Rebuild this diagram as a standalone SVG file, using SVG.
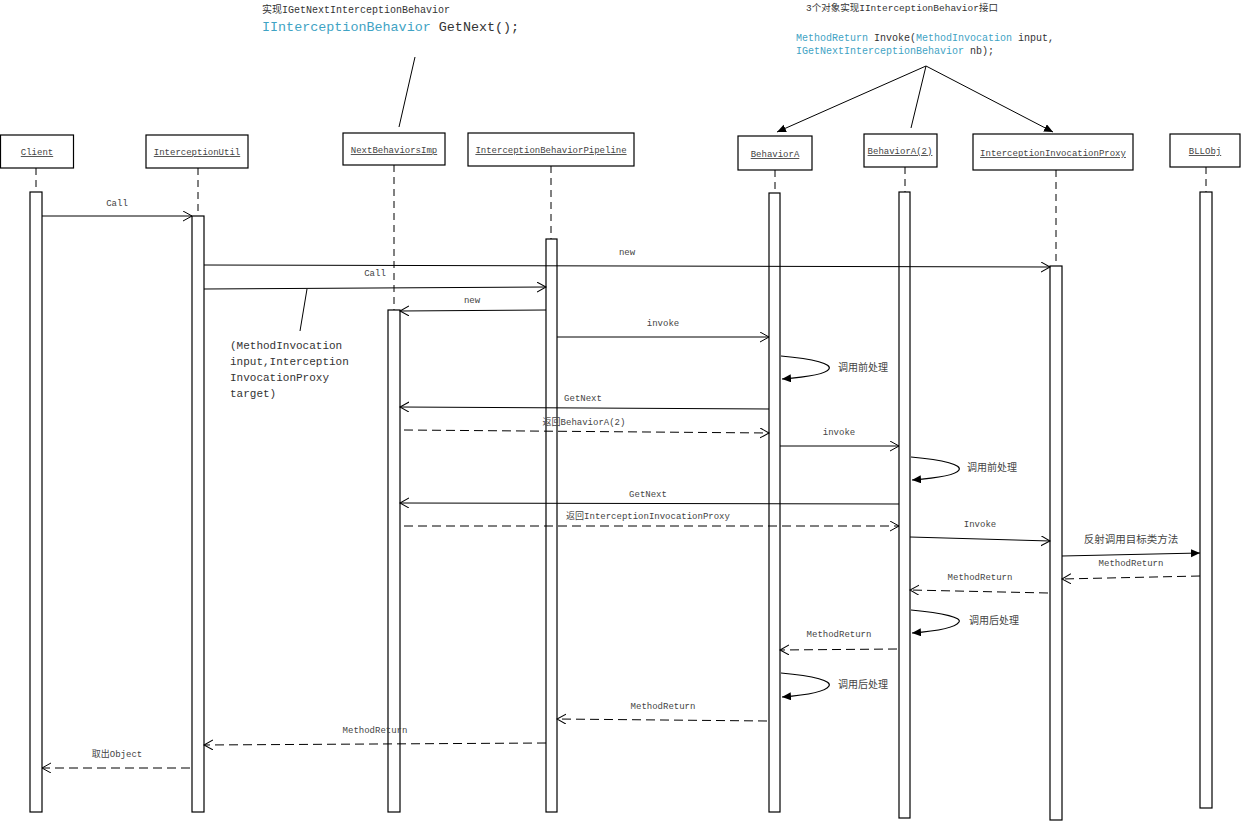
<svg xmlns="http://www.w3.org/2000/svg" width="1243" height="822" viewBox="0 0 1243 822">
<defs>
<marker id="open" markerUnits="userSpaceOnUse" markerWidth="12" markerHeight="12" refX="9" refY="5" orient="auto"><path d="M0,0 L9,5 L0,10" fill="none" stroke="#000" stroke-width="1"/></marker>
<marker id="fill" markerUnits="userSpaceOnUse" markerWidth="12" markerHeight="12" refX="9" refY="4" orient="auto"><path d="M0,0 L9,4 L0,8 z" fill="#000"/></marker>
</defs>
<style>
.box{fill:#fff;stroke:#000;stroke-width:1.2}
.act{fill:#fff;stroke:#000;stroke-width:1.2}
.life{stroke:#000;stroke-width:1;stroke-dasharray:7,5;fill:none}
.msg{stroke:#000;stroke-width:1;fill:none;marker-end:url(#open)}
.ret{stroke:#000;stroke-width:1;fill:none;stroke-dasharray:9,5;marker-end:url(#open)}
.loop{stroke:#000;stroke-width:1.2;fill:none;marker-end:url(#fill)}
.t{font-family:"Liberation Mono","Noto Sans CJK SC",monospace;font-size:9px;fill:#444;text-anchor:middle}
.h{font-family:"Liberation Mono","Noto Sans CJK SC",monospace;font-size:9px;fill:#444;text-anchor:middle;text-decoration:underline}
.c{font-family:"Liberation Mono","Noto Sans CJK SC",monospace;font-size:10px;fill:#333}
.blue{fill:#3fa3c4}
</style>
<rect width="1243" height="822" fill="#fff"/>

<!-- annotations -->
<g id="note-getnext">
<text class="c" x="262" y="13">实现IGetNextInterceptionBehavior</text>
<text class="c" x="262" y="31" style="font-size:13.4px"><tspan class="blue">IInterceptionBehavior</tspan> GetNext();</text>
<line x1="415" y1="57" x2="399" y2="127" stroke="#000"/>
</g>
<g id="note-invoke">
<text class="c" x="806" y="11" style="font-size:9.5px">3个对象实现IInterceptionBehavior接口</text>
<text class="c" x="796" y="41"><tspan class="blue">MethodReturn</tspan> Invoke(<tspan class="blue">MethodInvocation</tspan> input,</text>
<text class="c" x="796" y="54"><tspan class="blue">IGetNextInterceptionBehavior</tspan> nb);</text>
<line x1="926" y1="66" x2="777" y2="132" stroke="#000" marker-end="url(#fill)"/>
<line x1="926" y1="66" x2="911" y2="128" stroke="#000"/>
<line x1="926" y1="66" x2="1053" y2="132" stroke="#000" marker-end="url(#fill)"/>
</g>
<g id="note-args">
<line x1="307" y1="289" x2="300" y2="331" stroke="#000"/>
<text class="c" x="230" y="349" style="font-size:11px">(MethodInvocation</text>
<text class="c" x="230" y="365" style="font-size:11px">input,Interception</text>
<text class="c" x="230" y="381" style="font-size:11px">InvocationProxy</text>
<text class="c" x="230" y="397" style="font-size:11px">target)</text>
</g>

<!-- lifelines -->
<g id="lifelines">
<line class="life" x1="36" y1="168" x2="36" y2="192"/>
<line class="life" x1="198" y1="168" x2="198" y2="216"/>
<line class="life" x1="394" y1="165" x2="394" y2="310"/>
<line class="life" x1="551" y1="166" x2="551" y2="239"/>
<line class="life" x1="775" y1="170" x2="775" y2="193"/>
<line class="life" x1="905" y1="167" x2="905" y2="192"/>
<line class="life" x1="1056" y1="170" x2="1056" y2="266"/>
<line class="life" x1="1206" y1="167" x2="1206" y2="192"/>
</g>

<g id="Client"><rect class="box" x="0.5" y="135" width="73" height="33"/><text class="h" x="37" y="155">Client</text><rect class="act" x="30" y="192" width="12" height="620"/></g>
<g id="InterceptionUtil"><rect class="box" x="146" y="135" width="102" height="33"/><text class="h" x="197" y="155">InterceptionUtil</text><rect class="act" x="192" y="216" width="12" height="596"/></g>
<g id="NextBehaviorsImp"><rect class="box" x="343" y="133" width="102" height="32"/><text class="h" x="394" y="153">NextBehaviorsImp</text><rect class="act" x="388" y="310" width="12" height="502"/></g>
<g id="InterceptionBehaviorPipeline"><rect class="box" x="468" y="133" width="166" height="33"/><text class="h" x="551" y="153">InterceptionBehaviorPipeline</text><rect class="act" x="546" y="239" width="11" height="573"/></g>
<g id="BehaviorA"><rect class="box" x="738" y="136" width="74" height="34"/><text class="h" x="775" y="157">BehaviorA</text><rect class="act" x="769" y="193" width="11" height="619"/></g>
<g id="BehaviorA2"><rect class="box" x="864" y="134" width="73" height="33"/><text class="h" x="900" y="154">BehaviorA(2)</text><rect class="act" x="899" y="192" width="11" height="626"/></g>
<g id="InterceptionInvocationProxy"><rect class="box" x="973" y="134" width="160" height="36"/><text class="h" x="1053" y="156">InterceptionInvocationProxy</text><rect class="act" x="1050" y="266" width="12" height="554"/></g>
<g id="BLLObj"><rect class="box" x="1170" y="134" width="70" height="33"/><text class="h" x="1205" y="154">BLLObj</text><rect class="act" x="1200" y="192" width="12" height="616"/></g>

<g id="connectors">
<line class="msg" x1="42" y1="216" x2="192" y2="216"/>
<line class="msg" x1="204" y1="265" x2="1050" y2="267"/>
<line class="msg" x1="204" y1="289" x2="546" y2="287"/>
<line class="msg" x1="546" y1="310" x2="400" y2="311"/>
<line class="msg" x1="557" y1="337" x2="769" y2="337"/>
<path class="loop" d="M781,356 C815,359 832,364 829,369 C826,374 808,377 782,379"/>
<line class="msg" x1="769" y1="409" x2="400" y2="407"/>
<line class="ret" x1="404" y1="430" x2="769" y2="433"/>
<line class="msg" x1="780" y1="446" x2="899" y2="446"/>
<path class="loop" d="M911,457 C945,460 962,465 959,470 C956,475 938,478 912,480"/>
<line class="msg" x1="899" y1="504" x2="400" y2="503"/>
<line class="ret" x1="404" y1="526" x2="899" y2="526"/>
<line class="msg" x1="910" y1="537" x2="1050" y2="541"/>
<line x1="1062" y1="556" x2="1200" y2="553" stroke="#000" marker-end="url(#fill)"/>
<line class="ret" x1="1200" y1="576" x2="1062" y2="579"/>
<line class="ret" x1="1048" y1="593" x2="910" y2="590"/>
<path class="loop" d="M911,610 C945,613 962,618 959,622 C956,627 938,631 912,633"/>
<line class="ret" x1="897" y1="649" x2="780" y2="650"/>
<path class="loop" d="M781,673 C815,676 832,681 829,686 C826,691 808,695 782,697"/>
<line class="ret" x1="767" y1="721" x2="557" y2="719"/>
<line class="ret" x1="546" y1="743" x2="204" y2="745"/>
<line class="ret" x1="190" y1="768" x2="42" y2="768"/>
</g>

<g id="labels">
<text class="t" x="117" y="206">Call</text>
<text class="t" x="627" y="255">new</text>
<text class="t" x="375" y="276">Call</text>
<text class="t" x="472" y="303">new</text>
<text class="t" x="663" y="326">invoke</text>
<text class="t" x="863" y="371" style="font-size:10px">调用前处理</text>
<text class="t" x="583" y="401">GetNext</text>
<text class="t" x="584" y="425">返回BehaviorA(2)</text>
<text class="t" x="839" y="435">invoke</text>
<text class="t" x="992" y="471" style="font-size:10px">调用前处理</text>
<text class="t" x="648" y="497">GetNext</text>
<text class="t" x="648" y="519">返回InterceptionInvocationProxy</text>
<text class="t" x="980" y="527">Invoke</text>
<text class="t" x="1131" y="543" style="font-size:10.5px">反射调用目标类方法</text>
<text class="t" x="1131" y="566">MethodReturn</text>
<text class="t" x="980" y="580">MethodReturn</text>
<text class="t" x="994" y="624" style="font-size:10px">调用后处理</text>
<text class="t" x="839" y="637">MethodReturn</text>
<text class="t" x="863" y="688" style="font-size:10px">调用后处理</text>
<text class="t" x="663" y="709">MethodReturn</text>
<text class="t" x="375" y="733">MethodReturn</text>
<text class="t" x="117" y="757">取出Object</text>
</g>
</svg>
